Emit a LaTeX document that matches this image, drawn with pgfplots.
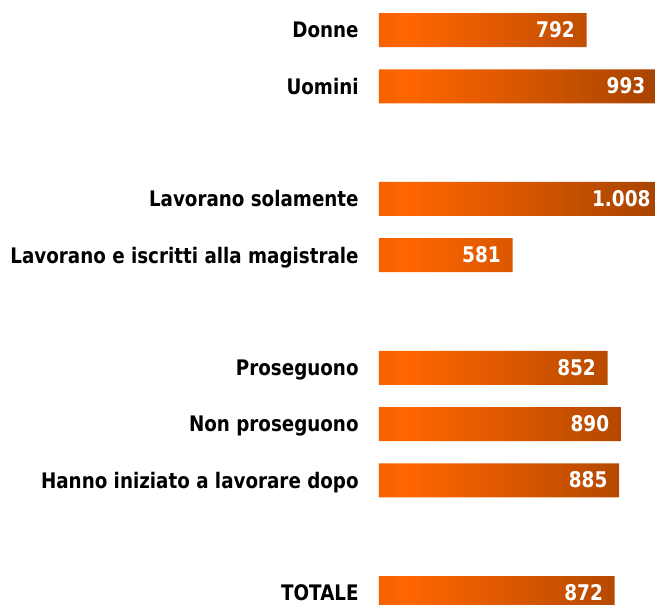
\documentclass[border=0pt]{standalone}
\usepackage{fontspec}
\setmainfont{DejaVu Sans}[FakeStretch=0.855]
\usepackage{pgfplots}
\pgfplotsset{compat=1.18}
\definecolor{barL}{HTML}{F56200}
\definecolor{barM}{HTML}{FF6600}
\definecolor{barR}{HTML}{A54300}
% shading spans 25bp..75bp over the bar itself
\pgfdeclarehorizontalshading{barshade}{100bp}{color(0bp)=(barL); color(25bp)=(barL); color(30bp)=(barM); color(75bp)=(barR); color(100bp)=(barR)}

\begin{document}
\begin{tikzpicture}
\begin{axis}[
  name=ax,
  scale only axis,
  width=142.9pt, height=302.5pt,
  xmin=200, xmax=1015,
  ymin=-0.533, ymax=10.213,
  y dir=reverse,
  xbar,
  bar width=0.604,
  hide x axis,
  axis line style={draw=none},
  major tick length=0pt,
  ytick style={draw=none},
  ytick={0,1,3,4,6,7,8,10},
  yticklabels={Donne, Uomini, Lavorano solamente,
    Lavorano e iscritti alla magistrale, Proseguono,
    Non proseguono, Hanno iniziato a lavorare dopo, TOTALE},
  yticklabel style={font=\bfseries\fontsize{10.7}{12}\selectfont,
    anchor=base east, inner sep=0pt, xshift=-10pt, yshift=-3.9pt},
  nodes near coords,
  point meta=x,
  every node near coord/.append style={anchor=base east, inner sep=0pt,
    xshift=-5.7pt, yshift=-3.75pt, text=white,
    font=\bfseries\fontsize{10.8}{12}\selectfont},
  /pgf/number format/1000 sep={.},
  /pgf/number format/assume math mode=true,
]
\addplot[xbar, draw=none, shade, shading=barshade] coordinates {
  (792,0) (993,1) (1008,3) (581,4) (852,6) (890,7) (885,8) (872,10)
};
\end{axis}
% the page ends at 655px, cutting the two longest bars as in the source
\pgfresetboundingbox
\path[use as bounding box] ([xshift=-189.5pt]ax.south west) rectangle ([xshift=138pt]ax.north west);
\end{tikzpicture}
\end{document}
